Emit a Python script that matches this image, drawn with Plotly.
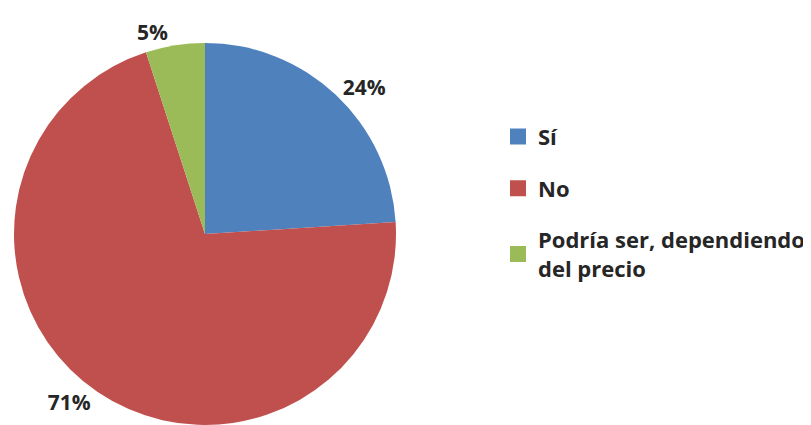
import plotly.graph_objects as go

labels = ["Sí", "No", "Podría ser, dependiendo<br>del precio"]
values = [24, 71, 5]
colors = ["#4F81BD", "#C0504D", "#9BBB59"]

FONT = "Open Sans"

fig = go.Figure()
fig.add_trace(go.Pie(
    labels=labels, values=values, sort=False, direction="clockwise", rotation=0,
    marker=dict(colors=colors, line=dict(width=0)),
    textinfo="percent", texttemplate="<b>%{percent:.0%}</b>",
    textposition="outside",
    textfont=dict(family=FONT, size=21, color="#262626"),
    showlegend=False, hoverinfo="label+percent",
    domain=dict(x=[6/811, 388/811], y=[5/425, 392/425]),
))
for i, (lab, col) in enumerate(zip(labels, colors)):
    fig.add_trace(go.Scatter(
        x=[None], y=[None], mode="markers", name=f"<b>{lab}</b>",
        marker=dict(symbol="square", size=16, color=col),
        legendgroup=f"g{i}", showlegend=True,
    ))

fig.update_layout(
    width=811, height=425,
    margin=dict(l=0, r=0, t=0, b=0),
    paper_bgcolor="white", plot_bgcolor="white",
    xaxis=dict(visible=False), yaxis=dict(visible=False),
    legend=dict(
        x=490/811, y=(425-108)/425, xanchor="left", yanchor="top",
        font=dict(family=FONT, size=22, color="#262626"),
        traceorder="grouped", tracegroupgap=20,
        itemwidth=30, bgcolor="rgba(0,0,0,0)",
    ),
)
fig.write_html("out.html")
